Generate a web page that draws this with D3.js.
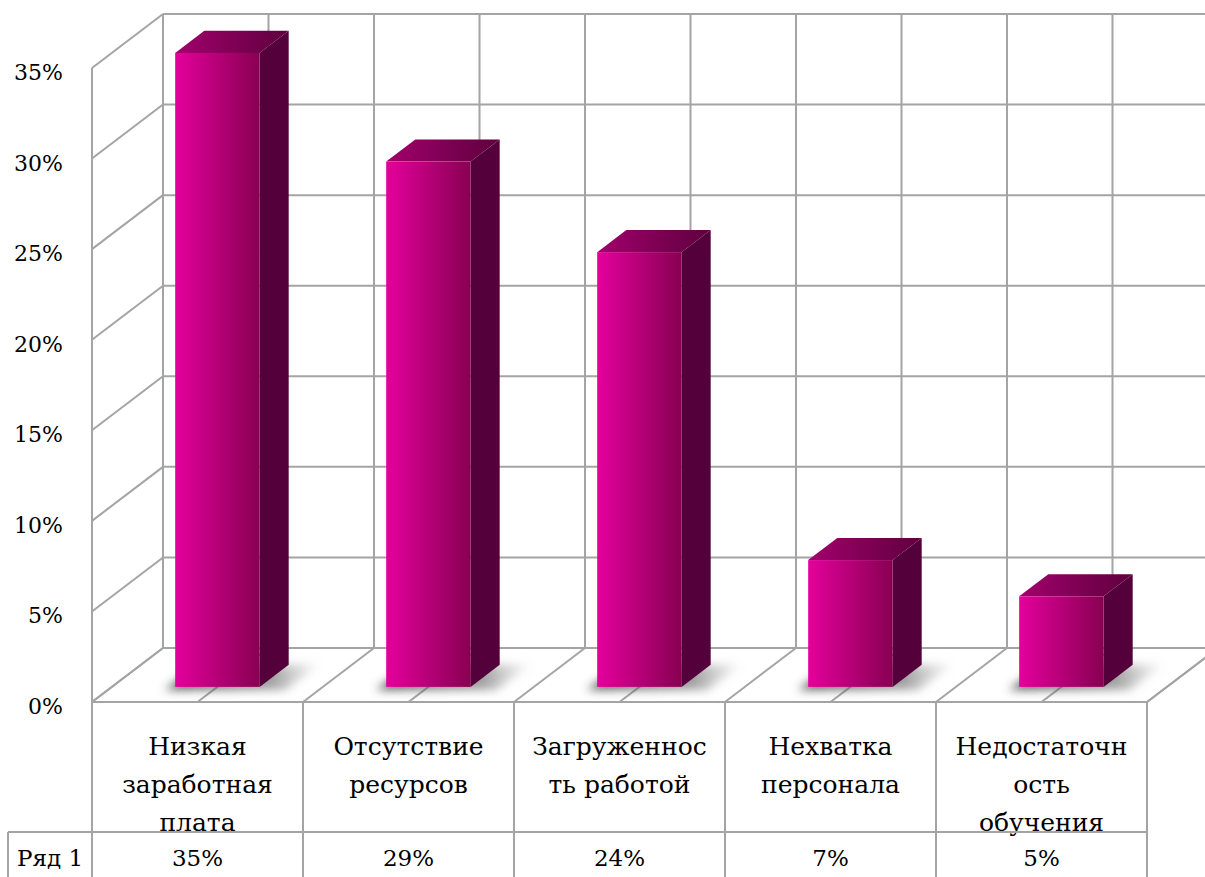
<!DOCTYPE html>
<html>
<head>
<meta charset="utf-8">
<script src="https://cdn.jsdelivr.net/npm/d3@7"></script>
<style>
  html, body { margin: 0; padding: 0; background: #fff; }
  svg { display: block; }
  text { font-family: "DejaVu Serif", serif; fill: #000; }
</style>
</head>
<body>
<div id="chart"></div>
<script>
// data
var categories = ["Низкая заработная плата", "Отсутствие ресурсов", "Загруженность работой", "Нехватка персонала", "Недостаточность обучения"];
var categoryLines = [["Низкая", "заработная", "плата"], ["Отсутствие", "ресурсов"], ["Загруженнос", "ть работой"], ["Нехватка", "персонала"], ["Недостаточн", "ость", "обучения"]];
var values = [0.35, 0.29, 0.24, 0.07, 0.05];
var seriesName = "Ряд 1";
var yTicks = [0, 0.05, 0.10, 0.15, 0.20, 0.25, 0.30, 0.35];

var width = 1205, height = 877;
var x0 = 92, plotW = 1055;           // front plane left edge and width
var depth = { dx: 71, dy: -54 };     // offset of the back wall
var barZ = [0.28, 0.69];             // bar front / back depth
var gridColor = "#a4a4a4";

var yScale = d3.scaleLinear().domain([0, 0.35]).range([702, 68]);
var xScale = d3.scaleBand().domain(categories).range([0, plotW]);
var halfSteps = d3.range(0, categories.length * 2 + 1).map(i => i * xScale.bandwidth() / 2);

// project (x along plot, value, depth z) to screen
function P(x, v, z) {
    return [x0 + x + z * depth.dx, yScale(v) + z * depth.dy];
}
function poly(pts) { return pts.map(p => p.join(",")).join(" "); }
function seg(g, a, b) {
    g.append("line").attr("x1", a[0]).attr("y1", a[1]).attr("x2", b[0]).attr("y2", b[1]);
}

var svg = d3.select("#chart").append("svg")
    .attr("width", width).attr("height", height);

var defs = svg.append("defs");
var gFront = defs.append("linearGradient").attr("id", "front");
gFront.append("stop").attr("offset", "0%").attr("stop-color", "#e4009c");
gFront.append("stop").attr("offset", "100%").attr("stop-color", "#880052");
var gTop = defs.append("linearGradient").attr("id", "top");
gTop.append("stop").attr("offset", "0%").attr("stop-color", "#a2006c");
gTop.append("stop").attr("offset", "100%").attr("stop-color", "#5e003e");
var gShadow = defs.append("linearGradient").attr("id", "shadow");
gShadow.append("stop").attr("offset", "0%").attr("stop-color", "#444").attr("stop-opacity", 0.9);
gShadow.append("stop").attr("offset", "70%").attr("stop-color", "#666").attr("stop-opacity", 0.6);
gShadow.append("stop").attr("offset", "100%").attr("stop-color", "#999").attr("stop-opacity", 0.1);
defs.append("filter").attr("id", "blur")
    .attr("x", "-50%").attr("y", "-50%").attr("width", "200%").attr("height", "200%")
    .append("feGaussianBlur").attr("stdDeviation", 5);

var grid = svg.append("g").attr("fill", "none").attr("stroke", gridColor).attr("stroke-width", 2);

// back wall
yTicks.forEach(t => seg(grid, P(0, t, 1), P(plotW + 40, t, 1)));
halfSteps.forEach(x => seg(grid, P(x, 0, 1), P(x, 0.35, 1)));
// left wall
yTicks.forEach(t => seg(grid, P(0, t, 0), P(0, t, 1)));
[0, 1].forEach(z => seg(grid, P(0, 0, z), P(0, 0.35, z)));
// floor
halfSteps.forEach(x => seg(grid, P(x, 0, 0), P(x, 0, 1)));
seg(grid, P(0, 0, 0), P(plotW, 0, 0));
seg(grid, P(plotW, 0, 0), P(plotW, 0, 1));

// y labels
svg.append("g").selectAll("text").data(yTicks).enter().append("text")
    .attr("x", 63).attr("y", d => yScale(d) + 12)
    .attr("text-anchor", "end").attr("font-size", 22)
    .text(d3.format(".0%"));

// bars
var bw = xScale.bandwidth() * 0.4;
var bars = svg.append("g").selectAll("g").data(values).enter().append("g");
bars.each(function (v, i) {
    var g = d3.select(this);
    var xl = xScale(categories[i]) + (xScale.bandwidth() - bw) / 2, xr = xl + bw;
    var zf = barZ[0], zb = barZ[1];
    // shadow on the floor
    var sh = [P(xl - 6, 0, zf - 0.06), P(xr + 30, 0, zf - 0.06), P(xr + 30, 0, zb), P(xl - 6, 0, zb)];
    g.append("polygon").attr("points", poly(sh)).attr("fill", "url(#shadow)")
        .attr("filter", "url(#blur)");
    // right side
    g.append("polygon").attr("fill", "#54003a")
        .attr("points", poly([P(xr, 0, zf), P(xr, 0, zb), P(xr, v, zb), P(xr, v, zf)]));
    // top
    g.append("polygon").attr("fill", "url(#top)")
        .attr("points", poly([P(xl, v, zf), P(xr, v, zf), P(xr, v, zb), P(xl, v, zb)]));
    // front
    var a = P(xl, v, zf), b = P(xr, 0, zf);
    g.append("rect").attr("fill", "url(#front)")
        .attr("x", a[0]).attr("y", a[1]).attr("width", b[0] - a[0]).attr("height", b[1] - a[1]);
});

// data table
var table = svg.append("g");
var rowTop = 702, rowMid = 832, rowBot = 877;
var tl = table.append("g").attr("stroke", gridColor).attr("stroke-width", 2);
halfSteps.filter((d, i) => i % 2 === 0).forEach(function (x) {
    tl.append("line").attr("x1", x0 + x).attr("x2", x0 + x).attr("y1", rowTop).attr("y2", rowBot);
});
tl.append("line").attr("x1", 8).attr("x2", 8).attr("y1", rowMid).attr("y2", rowBot);

var cat = table.append("g").attr("font-size", 25).attr("text-anchor", "middle");
categoryLines.forEach(function (lines, i) {
    var cx = x0 + xScale(categories[i]) + xScale.bandwidth() / 2;
    var t = cat.append("text").attr("x", cx).attr("y", 755);
    lines.forEach(function (ln, j) {
        t.append("tspan").attr("x", cx).attr("y", 755 + j * 38).text(ln);
    });
});
// row divider drawn over the clipped last line
table.append("line").attr("stroke", gridColor).attr("stroke-width", 2)
    .attr("x1", 8).attr("x2", x0 + plotW).attr("y1", rowMid).attr("y2", rowMid);

table.append("text").attr("x", 50).attr("y", 866).attr("font-size", 23).attr("text-anchor", "middle").text(seriesName);
table.append("g").attr("font-size", 23).attr("text-anchor", "middle")
    .selectAll("text").data(values).enter().append("text")
    .attr("x", (d, i) => x0 + xScale(categories[i]) + xScale.bandwidth() / 2)
    .attr("y", 866)
    .text(d3.format(".0%"));
</script>
</body>
</html>
